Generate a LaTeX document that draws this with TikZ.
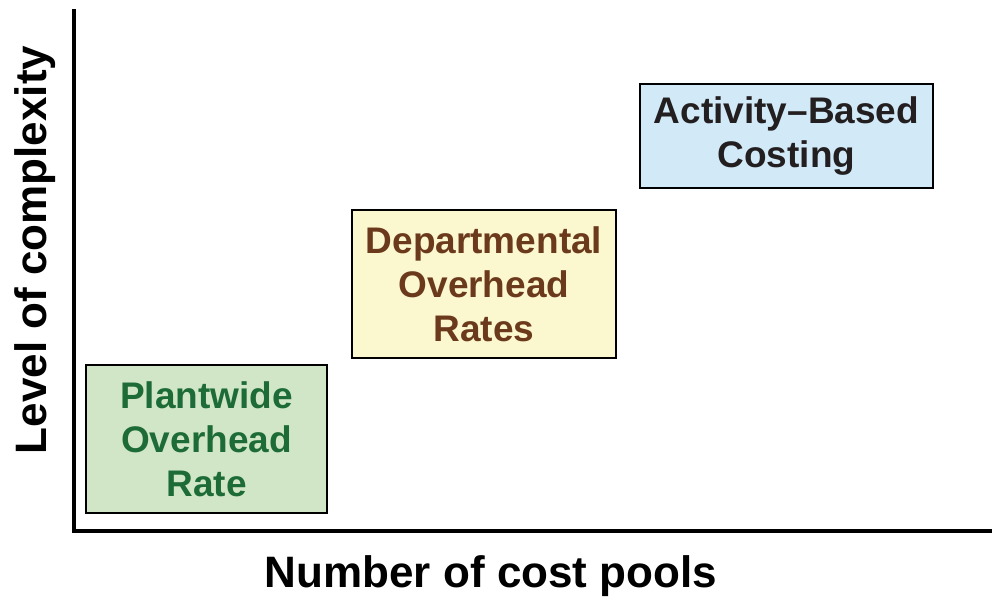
\documentclass[tikz,border=0pt]{standalone}
\usepackage{fontspec}
\setmainfont{Liberation Sans}
\definecolor{pwfill}{HTML}{D1E6C6}
\definecolor{pwtext}{HTML}{1D6B37}
\definecolor{dpfill}{HTML}{FBF7CF}
\definecolor{dptext}{HTML}{6B3A1C}
\definecolor{abfill}{HTML}{D2EAF8}
\definecolor{abtext}{HTML}{231F20}
\tikzset{
  costbox/.style={draw=black, line width=1.5pt, align=center, inner sep=0pt,
    font=\fontsize{37}{44}\selectfont\bfseries},
  axisline/.style={line width=4pt, line cap=rect},
  axislabel/.style={font=\fontsize{44}{50}\selectfont\bfseries, text=black}
}
\begin{document}
\begin{tikzpicture}[x=1pt,y=-1pt]
  \useasboundingbox (0,0) rectangle (992,600);
  % axes
  \coordinate (top) at (74,11);
  \coordinate (origin) at (74,531);
  \coordinate (right) at (992,531);
  \draw[axisline] (top) -- (origin) -- (right);
  % axis titles
  \node[axislabel] (xlab) at (491,576) {Number of cost pools};
  \node[axislabel, rotate=90] (ylab) at (35,250) {Level of complexity};
  % costing approaches
  \node[costbox, fill=pwfill, text=pwtext, minimum width=241pt, minimum height=148pt]
    (plant) at (206.5,439) {Plantwide\\Overhead\\Rate};
  \node[costbox, fill=dpfill, text=dptext, minimum width=264pt, minimum height=148pt]
    (dept) at (484,284) {Departmental\\Overhead\\Rates};
  \node[costbox, fill=abfill, text=abtext, minimum width=293pt, minimum height=104pt]
    (abc) at (786.5,136) {Activity–Based\\Costing};
\end{tikzpicture}
\end{document}
